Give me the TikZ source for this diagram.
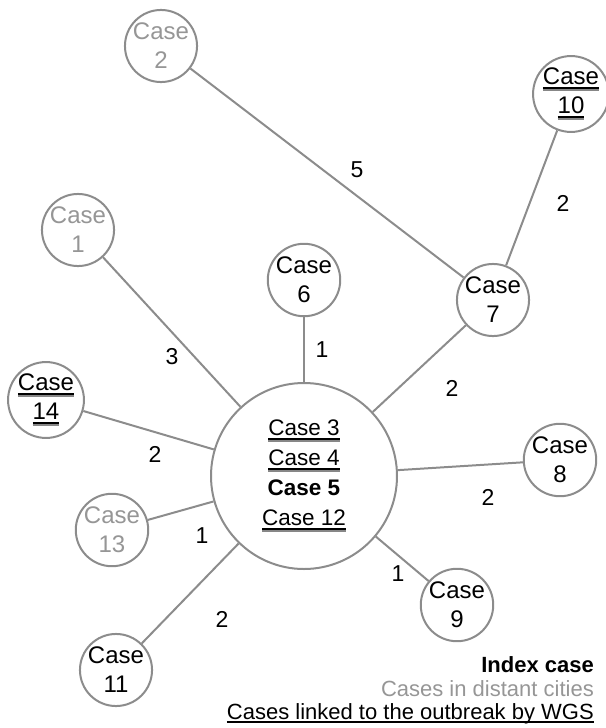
\documentclass[tikz,border=0pt]{standalone}
\usepackage{fontspec}
\setmainfont{Liberation Sans}
\definecolor{linegray}{RGB}{140,140,140}
\definecolor{textgray}{RGB}{150,150,150}
\definecolor{ulgray}{RGB}{135,135,135}
\newcommand{\dul}[1]{{\setbox0\hbox{#1}\rlap{\copy0}\rlap{\rule[-3.6pt]{\wd0}{1.6pt}}{\color{ulgray}\rule[-5.8pt]{\wd0}{2.2pt}}}}
\newcommand{\sul}[1]{{\setbox0\hbox{#1}\rlap{\copy0}\rule[-4pt]{\wd0}{1.6pt}}}
\tikzset{
  cs/.style={circle, draw=linegray, line width=2pt, fill=white, minimum size=66pt, inner sep=0pt, align=center, font=\fontsize{24}{29}\selectfont},
  big/.style={circle, draw=linegray, line width=2pt, fill=white, minimum size=186pt, inner sep=0pt, align=center, font=\fontsize{22.5}{30}\selectfont},
  far/.style={text=textgray},
  link/.style={draw=linegray, line width=2pt},
  lbl/.style={font=\fontsize{23}{27}\selectfont, inner sep=0pt},
  leg/.style={font=\fontsize{22}{26}\selectfont, inner sep=0pt, anchor=base east}
}
\begin{document}
\begin{tikzpicture}[x=1pt,y=-1pt]
\useasboundingbox (0,0) rectangle (605,728);
\node[big] (c) at (304,476) {\dul{Case 3}\\\dul{Case 4}\\\textbf{Case 5}\\\dul{Case 12}};
\node[cs,far] (c2) at (161,46) {Case\\2};
\node[cs] (c10) at (571,94) {\dul{Case}\\\dul{10}};
\node[cs,far] (c1) at (78,230) {Case\\1};
\node[cs] (c6) at (304,280) {Case\\6};
\node[cs] (c7) at (493,300) {Case\\7};
\node[cs] (c14) at (46,400) {\dul{Case}\\\dul{14}};
\node[cs] (c8) at (560,460) {Case\\8};
\node[cs,far] (c13) at (112,530) {Case\\13};
\node[cs] (c9) at (457,605) {Case\\9};
\node[cs] (c11) at (116,670) {Case\\11};
\draw[link] (c2) -- (c7);
\draw[link] (c10) -- (c7);
\draw[link] (c7) -- (c);
\draw[link] (c1) -- (c);
\draw[link] (c6) -- (c);
\draw[link] (c14) -- (c);
\draw[link] (c8) -- (c);
\draw[link] (c13) -- (c);
\draw[link] (c9) -- (c);
\draw[link] (c11) -- (c);
\node[lbl] (l5) at (357,170) {5};
\node[lbl] (l2a) at (563,203) {2};
\node[lbl] (l1a) at (322,350) {1};
\node[lbl] (l3) at (172,357) {3};
\node[lbl] (l2b) at (452,388) {2};
\node[lbl] (l2c) at (155,454) {2};
\node[lbl] (l2d) at (488,497) {2};
\node[lbl] (l1b) at (202,536) {1};
\node[lbl] (l1c) at (398,574) {1};
\node[lbl] (l2e) at (222,619) {2};
\node[leg] (g1) at (594,672) {\textbf{Index case}};
\node[leg,text=textgray] (g2) at (594,696) {Cases in distant cities};
\node[leg] (g3) at (594,719) {\sul{Cases linked to the outbreak by WGS}};
\end{tikzpicture}
\end{document}
